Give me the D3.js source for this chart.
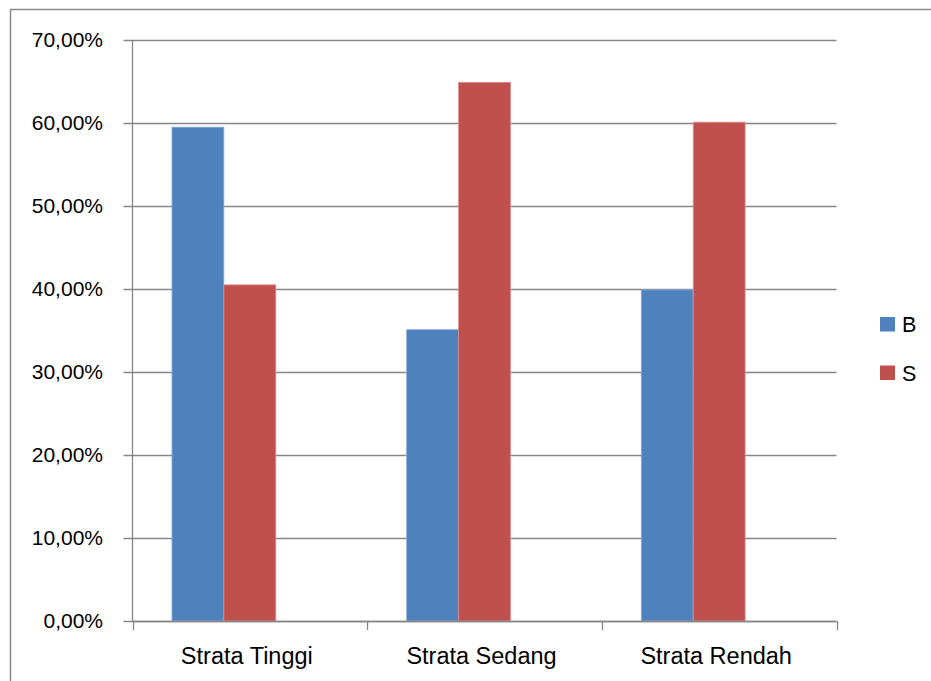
<!DOCTYPE html>
<html>
<head>
<meta charset="utf-8">
<script src="https://cdn.jsdelivr.net/npm/d3@7"></script>
<style>
  html, body { margin: 0; padding: 0; background: #fff; }
  svg { display: block; }
  text { font-family: "Liberation Sans", Arial, sans-serif; fill: #000; }
</style>
</head>
<body>
<svg id="chart" width="931" height="681"></svg>
<script>
// Share of respondents per stratum, series B and S
const categories = ["Strata Tinggi", "Strata Sedang", "Strata Rendah"];
const seriesNames = ["B", "S"];
const valuesB = [0.595, 0.351, 0.399];
const valuesS = [0.405, 0.649, 0.601];
const yTicks = [0, 0.1, 0.2, 0.3, 0.4, 0.5, 0.6, 0.7];
const colors = ["#4F81BD", "#C0504D"];
const edgeColors = ["#8fb0da", "#dc8f8d"];

const svg = d3.select("#chart");

// Outer chart frame
svg.append("rect")
  .attr("x", 10.5).attr("y", 9.5)
  .attr("width", 930).attr("height", 700)
  .attr("fill", "none")
  .attr("stroke", "#8a8a8a")
  .attr("stroke-width", 1.5);

const plot = { left: 132.5, right: 836.5, top: 40, bottom: 621 };

const y = d3.scaleLinear().domain([0, 0.7]).range([plot.bottom, plot.top]);
const x0 = d3.scaleBand().domain(categories).range([plot.left, plot.right]).padding(0);
// Three slots per category; the third slot is an empty series in the workbook
const x1 = d3.scaleBand().domain(["B", "S", "_"]).range([0, x0.bandwidth()])
  .paddingInner(0).paddingOuter(0.76);

const fmt = v => d3.format(".2f")(v * 100).replace(".", ",") + "%";

// Gridlines
svg.append("g")
  .selectAll("line")
  .data(yTicks)
  .join("line")
  .attr("x1", plot.left - 9).attr("x2", plot.right)
  .attr("y1", d => Math.round(y(d)) + 0.5)
  .attr("y2", d => Math.round(y(d)) + 0.5)
  .attr("stroke", "#868686")
  .attr("stroke-width", 1.3);

// Bars
const rows = categories.map((c, i) => ({ cat: c, vals: [valuesB[i], valuesS[i]] }));
const groups = svg.append("g")
  .selectAll("g")
  .data(rows)
  .join("g")
  .attr("transform", d => `translate(${x0(d.cat)},0)`);

groups.selectAll("rect")
  .data(d => d.vals.map((v, k) => ({ key: seriesNames[k], v, k })))
  .join("rect")
  .attr("x", d => x1(d.key))
  .attr("y", d => y(d.v))
  .attr("width", x1.bandwidth())
  .attr("height", d => plot.bottom - y(d.v))
  .attr("fill", d => colors[d.k])
  .attr("stroke", d => edgeColors[d.k])
  .attr("stroke-width", 0.8);

// Y axis line and tick labels
svg.append("line")
  .attr("x1", plot.left).attr("x2", plot.left)
  .attr("y1", plot.top).attr("y2", plot.bottom)
  .attr("stroke", "#868686").attr("stroke-width", 1.3);

svg.append("g")
  .selectAll("text")
  .data(yTicks)
  .join("text")
  .attr("x", 103)
  .attr("y", d => y(d) + 7)
  .attr("text-anchor", "end")
  .attr("font-size", 21)
  .text(fmt);

// X axis line, category separators and labels
svg.append("line")
  .attr("x1", plot.left).attr("x2", plot.right)
  .attr("y1", plot.bottom + 0.5).attr("y2", plot.bottom + 0.5)
  .attr("stroke", "#868686").attr("stroke-width", 1.3);

const bounds = categories.map(c => x0(c)).concat([plot.right]);
svg.append("g")
  .selectAll("line")
  .data(bounds)
  .join("line")
  .attr("x1", d => Math.round(d) + 0.5).attr("x2", d => Math.round(d) + 0.5)
  .attr("y1", plot.bottom).attr("y2", plot.bottom + 9)
  .attr("stroke", "#868686").attr("stroke-width", 1.3);

svg.append("g")
  .selectAll("text")
  .data(categories)
  .join("text")
  .attr("x", d => x0(d) + x0.bandwidth() / 2 - 3)
  .attr("y", 664)
  .attr("text-anchor", "middle")
  .attr("font-size", 23.5)
  .text(d => d);

// Legend
const legend = svg.append("g")
  .selectAll("g")
  .data(seriesNames)
  .join("g")
  .attr("transform", (d, i) => `translate(880,${317 + i * 48.5})`);

legend.append("rect")
  .attr("width", 15).attr("height", 14.5)
  .attr("fill", (d, i) => colors[i]);

legend.append("text")
  .attr("x", 22).attr("y", 15)
  .attr("font-size", 21.5)
  .text(d => d);
</script>
</body>
</html>
